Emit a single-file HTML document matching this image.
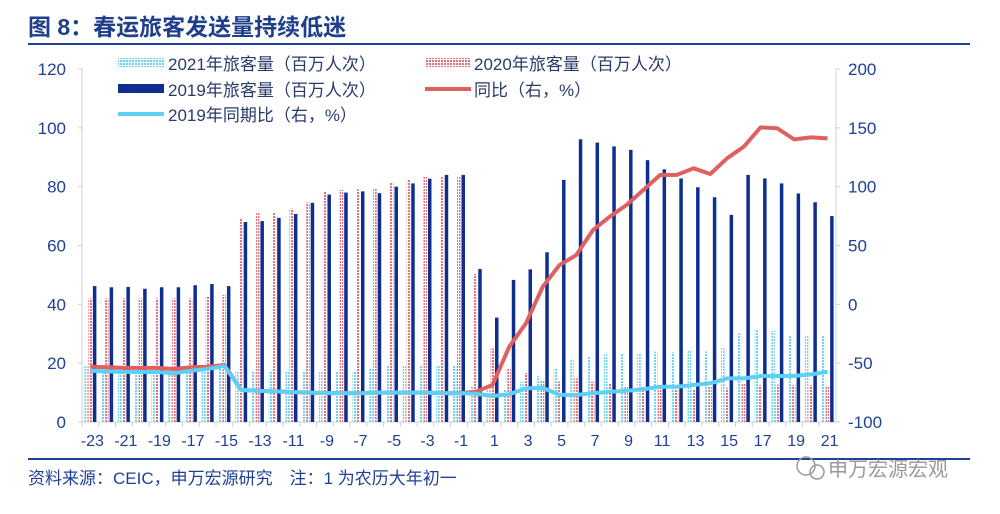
<!DOCTYPE html>
<html><head><meta charset="utf-8"><style>
body{margin:0;background:#fff;width:1000px;height:514px;overflow:hidden;font-family:"Liberation Sans","Noto Sans CJK SC",sans-serif;}
svg{display:block}
</style></head><body>
<svg id="chart" width="1000" height="514" xmlns="http://www.w3.org/2000/svg" font-family="Liberation Sans, Noto Sans CJK SC, sans-serif">
<defs>
<pattern id="pc" width="3" height="3" patternUnits="userSpaceOnUse"><rect width="3" height="3" fill="#fff"/><rect width="2" height="2" fill="#6dd4f5"/></pattern>
<pattern id="pr" width="3" height="3" patternUnits="userSpaceOnUse"><rect width="3" height="3" fill="#fff"/><rect width="2" height="2" fill="#e8707a"/></pattern>
</defs>
<text x="28" y="35" font-size="23" font-weight="bold" fill="#1f3f8c">图 8：春运旅客发送量持续低迷</text>
<line x1="28" y1="44" x2="970" y2="44" stroke="#1f3f99" stroke-width="2"/>
<g id="axes"></g>
<g id="bars"></g>
<g id="lines"></g>
<g font-size="17" fill="#2a3a6a">
 <rect x="118" y="58" width="46" height="9" fill="url(#pc)"/>
 <text x="168" y="70">2021年旅客量（百万人次）</text>
 <rect x="425" y="58" width="46" height="9" fill="url(#pr)"/>
 <text x="474" y="70">2020年旅客量（百万人次）</text>
 <rect x="118" y="84" width="46" height="9" fill="#0f2f8f"/>
 <text x="168" y="96">2019年旅客量（百万人次）</text>
 <line x1="425" y1="89" x2="471" y2="89" stroke="#e06060" stroke-width="4"/>
 <text x="474" y="96">同比（右，%）</text>
 <line x1="118" y1="114" x2="164" y2="114" stroke="#5fd0f5" stroke-width="4"/>
 <text x="168" y="121">2019年同期比（右，%）</text>
</g>
<line x1="28" y1="459" x2="970" y2="459" stroke="#1f3f99" stroke-width="2"/>
<text x="28" y="484" font-size="17" fill="#1f3f99">资料来源：CEIC，申万宏源研究　注：1 为农历大年初一</text>
<g>
 <circle cx="806" cy="466" r="9" fill="none" stroke="#999" stroke-width="1.5"/>
 <circle cx="817" cy="472" r="7" fill="none" stroke="#999" stroke-width="1.5"/>
 <text x="828" y="476" font-size="20" fill="#999">申万宏源宏观</text>
</g>
</svg>
<script>
const categories=[-23,-22,-21,-20,-19,-18,-17,-16,-15,-14,-13,-12,-11,-10,-9,-8,-7,-6,-5,-4,-3,-2,-1,0,1,2,3,4,5,6,7,8,9,10,11,12,13,14,15,16,17,18,19,20,21];
const tickLabels=["-23","-21","-19","-17","-15","-13","-11","-9","-7","-5","-3","-1","1","3","5","7","9","11","13","15","17","19","21"];
const leftTicks=[0,20,40,60,80,100,120];
const rightTicks=[-100,-50,0,50,100,150,200];
const v2021=[19,17,17,17,17,17,18,19,19,17,17,17,17,17,17,17,17,18,19,19,19,19,19,12,11,11,13.7,15.6,18.2,21.3,22.2,23,23.3,23.3,23.9,23.7,24.5,24,25.4,30.1,31.5,30.9,29.6,29.6,29.6];
const v2020=[42,42,42,42,42,42,42,42.5,43.2,69.2,71,71,72.5,74.7,78.3,78.9,79.1,79.3,81.3,82.5,83.4,83.2,83.2,50.3,25,18,16.6,14.3,13.7,14.8,13.7,13.1,12.2,11.9,11.9,11,11,11.9,11.5,13,12.5,12.7,12.5,12.5,12];
const v2019=[46.2,45.8,45.9,45.3,45.8,45.8,46.5,46.9,46.2,68,68.3,69.4,70.7,74.5,77.3,78,78.4,77.8,80,81.1,82.7,84,84,52,35.5,48.3,51.9,57.7,82.3,96.1,95,93.7,92.5,89,85.9,82.8,79.8,76.4,70.4,84,82.8,81.1,77.7,74.7,70];
const yoy=[-53,-53.5,-54,-54,-54,-55,-53.5,-53,-51.6,-72.8,-73.5,-74,-74.5,-75,-75.5,-75.5,-75.6,-75,-75,-75,-75,-75.5,-75.6,-74.3,-68.5,-36,-16,15,33.4,41.9,63.2,74.5,84.4,97.2,109.9,110,115.6,110.8,124.1,134,150.4,149.6,140.2,141.9,141];
const vs2019=[-56.4,-57,-57.5,-57.5,-57.5,-58.6,-56.5,-55,-52.4,-72.8,-73.5,-74,-74.5,-75,-75.5,-75.5,-75.6,-75,-75,-75,-75,-75.5,-75.6,-76,-77.9,-76.4,-71.4,-71,-77,-77,-75.6,-74.3,-73.5,-72.2,-70,-70,-68.5,-67.1,-62.9,-62.9,-60.9,-60.9,-60.9,-59.5,-57.3];

const NS="http://www.w3.org/2000/svg";
const L=82,R=836,T=69,B=422;
const step=(R-L)/categories.length;
const cx=i=>L+step*(i+0.5);
const yL=v=>B-(v/120)*(B-T);
const yR=v=>B-((v+100)/300)*(B-T);
function mk(tag,attrs,parent){const e=document.createElementNS(NS,tag);for(const k in attrs)e.setAttribute(k,attrs[k]);parent.appendChild(e);return e;}
const axes=document.getElementById('axes'),bars=document.getElementById('bars'),lines=document.getElementById('lines');

let e=mk('line',{x1:L,y1:T,x2:L,y2:B,stroke:'#d0d0d0','stroke-width':1},axes);


e=mk('line',{x1:R,y1:T,x2:R,y2:B,stroke:'#d0d0d0','stroke-width':1},axes);


e=mk('line',{x1:L,y1:B,x2:R,y2:B,stroke:'#d0d0d0','stroke-width':1},axes);


leftTicks.forEach(v=>{
 mk('line',{x1:L-4,y1:yL(v),x2:L,y2:yL(v),stroke:'#d0d0d0'},axes);
 const t=mk('text',{x:66,y:yL(v)+6,'text-anchor':'end','font-size':17,fill:'#1f3f99'},axes);t.textContent=v;
 
 
});
rightTicks.forEach(v=>{
 mk('line',{x1:R,y1:yR(v),x2:R+4,y2:yR(v),stroke:'#d0d0d0'},axes);
 const t=mk('text',{x:848,y:yR(v)+6,'font-size':17,fill:'#1f3f99'},axes);t.textContent=v;
 
 
});
categories.forEach((c,i)=>{mk('line',{x1:L+step*i,y1:B,x2:L+step*i,y2:B+5,stroke:'#d0d0d0'},axes);});
tickLabels.forEach((s,k)=>{
 const t=mk('text',{x:cx(k*2)+2,y:446,'text-anchor':'middle','font-size':16,fill:'#1f3f99'},axes);t.textContent=s;
 
 
});
categories.forEach((c,i)=>{
 const x=cx(i);
 let b=mk('rect',{x:x-6,y:yL(v2021[i]),width:3.5,height:B-yL(v2021[i]),fill:'url(#pc)'},bars);
 
 
 b=mk('rect',{x:x-2,y:yL(v2020[i]),width:3.5,height:B-yL(v2020[i]),fill:'url(#pr)'},bars);
 
 
 b=mk('rect',{x:x+2.5,y:yL(v2019[i]),width:3.5,height:B-yL(v2019[i]),fill:'#0f2f8f'},bars);
 
 
});
let p=mk('polyline',{points:yoy.map((v,i)=>cx(i)+','+yR(v)).join(' '),fill:'none',stroke:'#e06060','stroke-width':4,'stroke-linejoin':'round'},lines);


p=mk('polyline',{points:vs2019.map((v,i)=>cx(i)+','+yR(v)).join(' '),fill:'none',stroke:'#5fd0f5','stroke-width':4,'stroke-linejoin':'round'},lines);


</script>
</body></html>
